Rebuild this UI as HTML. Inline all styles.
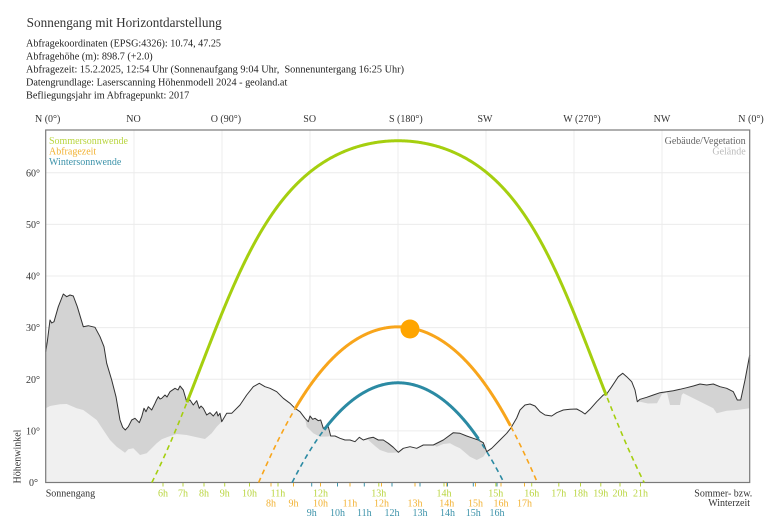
<!DOCTYPE html>
<html><head><meta charset="utf-8">
<style>
html,body{margin:0;padding:0;background:#fff;}
svg{display:block;font-family:"Liberation Serif",serif;}
</style></head>
<body>
<svg id="s" width="770" height="522" viewBox="0 0 770 522" xmlns="http://www.w3.org/2000/svg">
<rect x="0" y="0" width="770" height="522" fill="#fff"/>
<!-- header -->
<text x="26.7" y="27" font-size="13.2" fill="#333" textLength="195" lengthAdjust="spacingAndGlyphs">Sonnengang mit Horizontdarstellung</text>
<g font-size="10" fill="#222">
<text x="26" y="46.5" textLength="195" lengthAdjust="spacingAndGlyphs">Abfragekoordinaten (EPSG:4326): 10.74, 47.25</text>
<text x="26" y="59.5" textLength="126.7" lengthAdjust="spacingAndGlyphs">Abfragehöhe (m): 898.7 (+2.0)</text>
<text x="26" y="72.5" textLength="378" lengthAdjust="spacingAndGlyphs" xml:space="preserve">Abfragezeit: 15.2.2025, 12:54 Uhr (Sonnenaufgang 9:04 Uhr,  Sonnenuntergang 16:25 Uhr)</text>
<text x="26" y="85.5" textLength="261.3" lengthAdjust="spacingAndGlyphs">Datengrundlage: Laserscanning Höhenmodell 2024 - geoland.at</text>
<text x="26" y="98.5" textLength="163.3" lengthAdjust="spacingAndGlyphs">Befliegungsjahr im Abfragepunkt: 2017</text>
</g>
<!-- top axis labels -->
<g font-size="10" fill="#333">
<text x="35" y="122">N (0°)</text>
<text x="133.5" y="122" text-anchor="middle">NO</text>
<text x="210.7" y="122">O (90°)</text>
<text x="309.7" y="122" text-anchor="middle">SO</text>
<text x="389" y="122">S (180°)</text>
<text x="485" y="122" text-anchor="middle">SW</text>
<text x="563.3" y="122">W (270°)</text>
<text x="662" y="122" text-anchor="middle">NW</text>
<text x="738.3" y="122">N (0°)</text>
</g>
<!-- grid -->
<g stroke="#ececec" stroke-width="1">
<line x1="134" y1="130" x2="134" y2="482.5"/>
<line x1="222" y1="130" x2="222" y2="482.5"/>
<line x1="310" y1="130" x2="310" y2="482.5"/>
<line x1="398" y1="130" x2="398" y2="482.5"/>
<line x1="486" y1="130" x2="486" y2="482.5"/>
<line x1="574" y1="130" x2="574" y2="482.5"/>
<line x1="662" y1="130" x2="662" y2="482.5"/>
<line x1="45.7" y1="430.9" x2="749.7" y2="430.9"/>
<line x1="45.7" y1="379.2" x2="749.7" y2="379.2"/>
<line x1="45.7" y1="327.6" x2="749.7" y2="327.6"/>
<line x1="45.7" y1="276" x2="749.7" y2="276"/>
<line x1="45.7" y1="224.4" x2="749.7" y2="224.4"/>
<line x1="45.7" y1="172.7" x2="749.7" y2="172.7"/>
</g>
<!-- terrain -->
<path id="dark" fill="#d3d3d3" d=""/>
<path id="light" fill="#f0f0f0" d=""/>
<path id="bline" fill="none" stroke="#333" stroke-width="1" stroke-linejoin="round" d=""/>
<!-- frame -->
<rect x="45.7" y="130" width="704" height="352.5" fill="none" stroke="#7a7a7a" stroke-width="1.2"/>
<!-- curves -->
<g id="curves"></g>
<circle cx="410" cy="329" r="9.5" fill="#ffa500"/>
<!-- legend -->
<g font-size="10">
<text x="49" y="144" fill="#b9d53f">Sommersonnwende</text>
<text x="49" y="154.5" fill="#f2b233">Abfragezeit</text>
<text x="49" y="164.8" fill="#3d93aa">Wintersonnwende</text>
<text x="745.7" y="144" fill="#666" text-anchor="end">Gebäude/Vegetation</text>
<text x="745.7" y="154.5" fill="#bbb" text-anchor="end">Gelände</text>
</g>
<!-- y axis labels -->
<g font-size="10" fill="#333" text-anchor="end">
<text x="40" y="176.3">60°</text>
<text x="40" y="228">50°</text>
<text x="40" y="279.6">40°</text>
<text x="40" y="331.2">30°</text>
<text x="40" y="382.8">20°</text>
<text x="40" y="434.5">10°</text>
<text x="38" y="486">0°</text>
</g>
<text transform="translate(20.5,456.5) rotate(-90)" font-size="10" fill="#333" text-anchor="middle">Höhenwinkel</text>
<text x="45.7" y="496.3" font-size="10" fill="#333">Sonnengang</text>
<text x="752.3" y="496.3" font-size="10" fill="#333" text-anchor="end">Sommer- bzw.</text>
<text x="750" y="505.8" font-size="10" fill="#333" text-anchor="end">Winterzeit</text>
<!-- hour ticks -->
<g id="ticks" stroke-width="1"></g>
<!-- hour labels -->
<g font-size="10" text-anchor="middle" fill="#b9d53f">
<text x="163" y="496.5">6h</text><text x="183" y="496.5">7h</text><text x="204" y="496.5">8h</text><text x="224.7" y="496.5">9h</text><text x="249.5" y="496.5">10h</text><text x="278" y="496.5">11h</text><text x="320.5" y="496.5">12h</text><text x="378.8" y="496.5">13h</text><text x="444" y="496.5">14h</text><text x="495.8" y="496.5">15h</text><text x="531.7" y="496.5">16h</text><text x="558.8" y="496.5">17h</text><text x="580.5" y="496.5">18h</text><text x="600.8" y="496.5">19h</text><text x="620" y="496.5">20h</text><text x="640.5" y="496.5">21h</text>
</g>
<g font-size="10" text-anchor="middle" fill="#f2b233">
<text x="271" y="506.3">8h</text><text x="293.5" y="506.3">9h</text><text x="320.5" y="506.3">10h</text><text x="350" y="506.3">11h</text><text x="381.5" y="506.3">12h</text><text x="415" y="506.3">13h</text><text x="446.7" y="506.3">14h</text><text x="475.5" y="506.3">15h</text><text x="501" y="506.3">16h</text><text x="524.5" y="506.3">17h</text>
</g>
<g font-size="10" text-anchor="middle" fill="#3d93aa">
<text x="311.7" y="516">9h</text><text x="337.5" y="516">10h</text><text x="364.3" y="516">11h</text><text x="392" y="516">12h</text><text x="420" y="516">13h</text><text x="447.5" y="516">14h</text><text x="473.3" y="516">15h</text><text x="497" y="516">16h</text>
</g>
</svg>
<script>
(function(){
var NS="http://www.w3.org/2000/svg";
var B="45.7,351.7 47.3,341.7 50,320 51.7,323 54,321.7 58.3,306.7 63.3,294 66.7,296.7 70,295 73.3,296 77.3,306.7 83.3,326.7 88.3,325.7 95,327.3 100,336.7 104,346.7 106.7,363.3 111.7,380 116,396.7 120,420 122.7,427.3 125.3,430 128.3,426.7 131.7,420 135,418.3 139.3,422.7 141.7,416.7 144,408.3 146,411.7 148.3,406.7 151.7,410 155,403.3 156.5,400 158.3,396.7 160,399 161.7,398.3 165,395 167,397 170,391.7 175,388.3 178,390 180,386 183.3,390 186.7,401.7 190,400 193.3,405 196.7,400.7 199.3,408.3 201,406 203.3,408.3 206.7,415 210,412.7 213.3,416 216.7,411.7 218,416 220,413.3 221.7,421.7 226.7,413.3 231.7,413.3 240,405 246.7,395 253.3,386.7 259.3,383.3 265,386.7 270,388.3 276.7,391.7 283.3,398.3 290,403.3 295,408.3 300,411.7 305,418.3 308.3,421.7 310,416 312.7,419.3 315,418.3 318.3,420.7 320.7,420 323.3,428.3 326,426.7 328.3,426.7 330.7,436 335,436 340,438.3 345,440 350,440 355,441.7 359.3,437.3 363.3,440 368.3,438.3 373.3,437.3 378.3,440 383.3,440 388.3,443.3 393.3,447.3 398.3,452.3 403.3,448.3 410,446.7 416.7,448.3 423.3,445 433.3,445 443.3,440 453.3,432.7 460,433.3 466.7,436 473.3,438.3 478.3,440 483.3,442.7 486.7,451.7 491.7,448.3 500,440 506.7,433.3 510.7,428.3 516.7,418 520,410 525,405 530,404 535,406 540,411.7 545,415 551.7,416 556.7,412.7 563.3,410 570,409.3 576.7,409 581.7,411.7 585,414 590,409.3 596.7,401.7 603.3,395 606.7,394 611.7,386.7 618.3,376.7 622.7,373.3 626.7,376.7 631.7,381.7 635,390 637.3,401.7 640,399.3 646.7,397.3 653.3,395 660,392.7 666.7,391.7 673.3,390.7 680,389.3 686.7,387.7 693.3,386 700,384 706.7,385 713.3,384 720,386.7 726.7,388.3 733.3,391.7 737.3,400 740.7,400 745,380 749.7,355";
var G="45.7,408.3 50,406 60,404.3 66.7,404 76.7,408.3 83.3,410 90,415 96.7,420 103.3,430 110,440 116.7,446.7 125,452.7 128.3,449.3 133.3,448.3 140,455 146.7,453.3 151.7,448.3 156.7,443.3 161.7,439.3 168.3,436.7 176.7,434 186.7,435 196.7,437.3 205,439 211.7,433.3 216.7,426.7 221.7,421.7 226.7,413.3 231.7,413.3 240,405 246.7,395 253.3,386.7 259.3,383.3 265,386.7 270,388.3 276.7,391.7 283.3,398.3 290,403.3 295,408.3 300,411.7 305,418.3 306.7,426.7 313.3,433.3 320,436.7 328,436.5 330.7,436 335,436 340,438.3 345,440 350,440 355,441.7 359.3,437.3 363.3,440 368.3,440 375,446 380,450 388,452.7 393.3,452.7 398.3,452.3 403.3,448.3 410,446.7 416.7,448.3 423.3,445 433.3,445 436.7,446.7 443.3,444 450,443.3 455,446 460,448.3 470,456.7 476.7,460 483.3,456.7 486.7,451.7 491.7,448.3 500,440 506.7,433.3 510.7,428.3 516.7,418 520,410 525,405 530,404 535,406 540,411.7 545,415 551.7,416 556.7,412.7 563.3,410 570,409.3 576.7,409 581.7,411.7 585,414 590,409.3 596.7,401.7 603.3,395 606.7,394 611.7,386.7 618.3,376.7 622.7,373.3 626.7,376.7 631.7,381.7 635,390 637.3,401.7 640,401.7 648,403.5 657,403.3 662,394 667,392.5 670,405 680,405 681.7,395 683.3,393.3 693.3,398.3 703.3,403.3 713.3,408.3 716.7,413.3 726.7,410.7 736.7,410 749.7,408.3";
function pth(s){return "M"+s.trim().split(/\s+/).join(" L");}
var base=" L749.7,482.5 L45.7,482.5 Z";
document.getElementById("dark").setAttribute("d",pth(B)+base);
document.getElementById("light").setAttribute("d",pth(G)+base);
document.getElementById("bline").setAttribute("d",pth(B));
var R=Math.PI/180, lat=47.25*R;
function P(dec,h){
  var d=dec*R,H=h*R;
  var sa=Math.sin(lat)*Math.sin(d)+Math.cos(lat)*Math.cos(d)*Math.cos(H);
  if(sa<0)sa=0;
  var alt=Math.asin(sa);
  var A=Math.atan2(Math.sin(H),Math.cos(H)*Math.sin(lat)-Math.tan(d)*Math.cos(lat))/R+180;
  return [46+A*704/360, 482.5-alt/R*5.163];
}
var g=document.getElementById("curves");
function curve(dec,xa,xb,col){
  var d=dec*R;
  var H0=Math.acos(-Math.tan(lat)*Math.tan(d))/R;
  var N=Math.ceil(2*H0/0.25), all=[], sol=[];
  for(var i=0;i<=N;i++){
    var h=-H0+i*2*H0/N, p=P(dec,h);
    all.push(p[0].toFixed(2)+","+p[1].toFixed(2));
    if(p[0]>=xa&&p[0]<=xb) sol.push(p[0].toFixed(2)+","+p[1].toFixed(2));
  }
  var e1=document.createElementNS(NS,"path");
  e1.setAttribute("d","M"+all.join(" L"));
  e1.setAttribute("fill","none");e1.setAttribute("stroke",col);
  e1.setAttribute("stroke-width","1.6");e1.setAttribute("stroke-dasharray","5 4");
  g.appendChild(e1);
  var e2=document.createElementNS(NS,"path");
  e2.setAttribute("d","M"+sol.join(" L"));
  e2.setAttribute("fill","none");e2.setAttribute("stroke",col);
  e2.setAttribute("stroke-width","3");
  g.appendChild(e2);
}
curve(23.44,186.7,606.7,"#a5cf0f");
curve(-12.6,295,510.7,"#f8a51b");
curve(-23.44,324,478.3,"#2b8aa3");
var t=document.getElementById("ticks");
function ticks(xs,col){
  xs.forEach(function(x){
    var l=document.createElementNS(NS,"line");
    l.setAttribute("x1",x);l.setAttribute("x2",x);
    l.setAttribute("y1",483);l.setAttribute("y2",486.5);
    l.setAttribute("stroke",col);t.appendChild(l);
  });
}
ticks([163,183,204,224.7,249.5,278,320.5,378.8,444,495.8,531.7,558.8,580.5,600.8,620,640.5],"#b9d53f");
ticks([271,293.5,320.5,350,381.5,415,446.7,475.5,501,524.5],"#f2b233");
ticks([311.7,337.5,364.3,392,420,447.5,473.3,497],"#3d93aa");
})();
</script>
</body></html>
